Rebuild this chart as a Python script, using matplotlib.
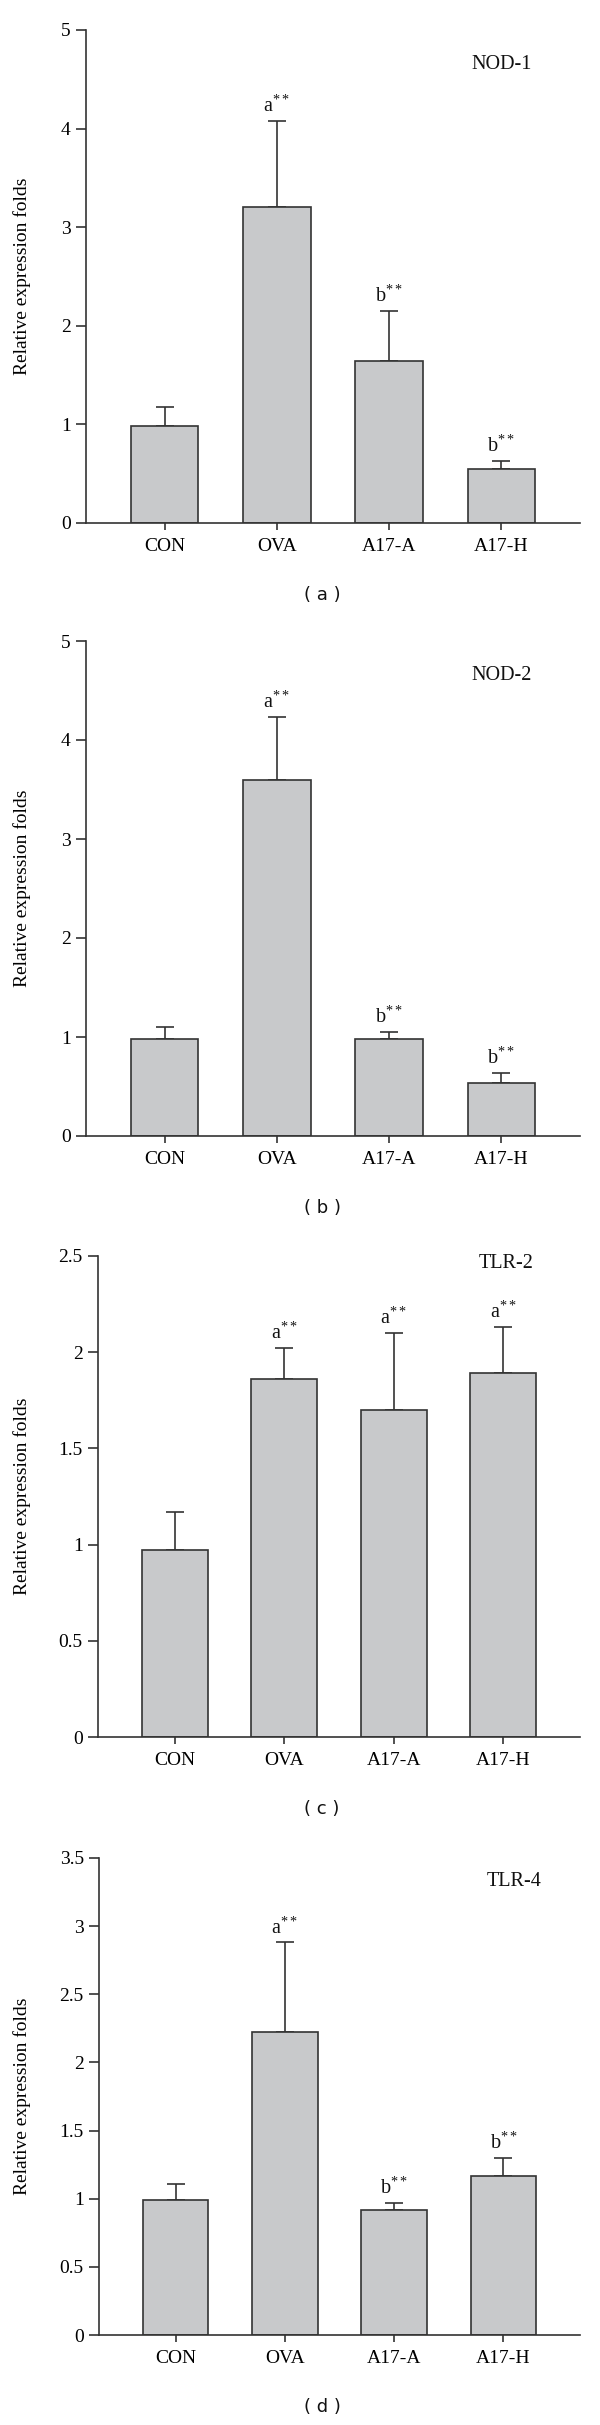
import matplotlib
matplotlib.use("Agg")
import matplotlib.pyplot as plt

plt.rcParams["font.family"] = ["Liberation Serif", "DejaVu Serif"]
plt.rcParams["mathtext.fontset"] = "custom"
plt.rcParams["mathtext.rm"] = "Liberation Serif"
plt.rcParams["mathtext.it"] = "Liberation Serif"

groups = ["CON", "OVA", "A17-A", "A17-H"]

nod1_mean = [0.98, 3.20, 1.64, 0.55]
nod1_err = [0.20, 0.88, 0.51, 0.08]
nod1_sig = ["", "a", "b", "b"]

nod2_mean = [0.98, 3.60, 0.98, 0.54]
nod2_err = [0.12, 0.63, 0.07, 0.10]
nod2_sig = ["", "a", "b", "b"]

tlr2_mean = [0.97, 1.86, 1.70, 1.89]
tlr2_err = [0.20, 0.16, 0.40, 0.24]
tlr2_sig = ["", "a", "a", "a"]

tlr4_mean = [0.99, 2.22, 0.92, 1.17]
tlr4_err = [0.12, 0.66, 0.05, 0.13]
tlr4_sig = ["", "a", "b", "b"]

W, H = 600, 2425
BAR_COLOR = "#c8c9cb"
LINE_COLOR = "#333333"

# name, means, errs, sig, ymax, ystep, panel tag, (left, top, right, bottom) in px,
# gene label position (x in bar units, y as fraction of ymax)
panels = [
    ("NOD-1", nod1_mean, nod1_err, nod1_sig, 5, 1, "( a )", (86, 30, 580, 523), (3.0, 0.93)),
    ("NOD-2", nod2_mean, nod2_err, nod2_sig, 5, 1, "( b )", (86, 641, 580, 1136), (3.0, 0.93)),
    ("TLR-2", tlr2_mean, tlr2_err, tlr2_sig, 2.5, 0.5, "( c )", (98, 1256, 580, 1737), (3.03, 0.985)),
    ("TLR-4", tlr4_mean, tlr4_err, tlr4_sig, 3.5, 0.5, "( d )", (99, 1858, 580, 2335), (3.1, 0.95)),
]

fig = plt.figure(figsize=(W / 100, H / 100), dpi=100)

for name, means, errs, sig, ymax, ystep, tag, (l, t, r, b), (lx, ly) in panels:
    ax = fig.add_axes([l / W, 1 - b / H, (r - l) / W, (b - t) / H])
    x = list(range(len(groups)))
    ax.bar(x, means, width=0.6, color=BAR_COLOR, edgecolor=LINE_COLOR, linewidth=1.2, zorder=2)
    ax.errorbar(x, means, yerr=[[0] * len(errs), errs], fmt="none", ecolor=LINE_COLOR,
                elinewidth=1.2, capsize=6.5, capthick=1.2, zorder=1)
    for xi, m, e, s in zip(x, means, errs, sig):
        if s:
            ax.annotate(s + r"$^{**}$", (xi, m + e), xytext=(0, 3), textcoords="offset points",
                        ha="center", va="bottom", fontsize=14.5, color="#111111")
    ax.text(lx, ymax * ly, name, ha="center", va="center", fontsize=14.5, color="#111111")

    ax.set_xlim(-0.7, 3.7)
    ax.set_ylim(0, ymax)
    ticks = [i * ystep for i in range(int(round(ymax / ystep)) + 1)]
    ax.set_yticks(ticks)
    ax.set_yticklabels([f"{v:g}" for v in ticks])
    ax.set_xticks(x)
    ax.set_xticklabels(groups)
    for side in ("top", "right"):
        ax.spines[side].set_visible(False)
    for side in ("left", "bottom"):
        ax.spines[side].set_color(LINE_COLOR)
        ax.spines[side].set_linewidth(1.2)
    ax.tick_params(axis="y", length=7, width=1.2, color=LINE_COLOR, pad=4, labelsize=14)
    ax.tick_params(axis="x", length=5, width=1.2, color=LINE_COLOR, pad=6, labelsize=14)
    ax.set_ylabel("Relative expression folds", fontsize=14)
    ax.yaxis.set_label_coords((31 - l) / (r - l), 0.5)

    fig.text(322 / W, 1 - (b + 72) / H, tag, ha="center", va="center", fontsize=13,
             family="DejaVu Sans", color="#111111")

fig.savefig("out.png", dpi=100)
